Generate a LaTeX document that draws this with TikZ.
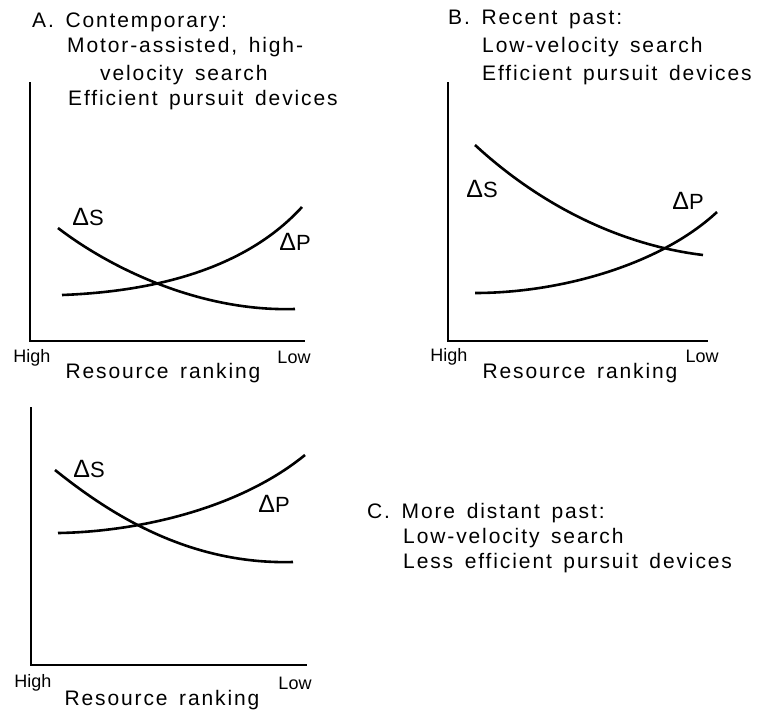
\documentclass[tikz,border=0pt]{standalone}
\usepackage{fontspec}
\setmainfont{Liberation Sans}
\newfontfamily\panelfont{Liberation Sans}[LetterSpace=9,WordSpace=1.5]
\usetikzlibrary{positioning}

\newcommand{\bigdelta}{{\fontsize{25}{28}\selectfont Δ}}

\tikzset{
  axisline/.style={line width=2pt},
  costcurve/.style={line width=2.6pt},
  heading/.style={anchor=west, inner sep=0pt, font=\panelfont\fontsize{21}{24}\selectfont},
  deltalabel/.style={anchor=base, inner sep=0pt, font=\panelfont\fontsize{22}{24}\selectfont},
  endlabel/.style={inner sep=0pt, font=\fontsize{18}{20}\selectfont},
  rankinglabel/.style={inner sep=0pt, font=\panelfont\fontsize{21}{24}\selectfont},
}

\begin{document}
\begin{tikzpicture}[x=1pt,y=-1pt]
  \useasboundingbox (0,0) rectangle (765,709);

  % A. contemporary
  \node[heading] (titleA) at (32,22) {A. Contemporary:};
  \node[heading] (lineA1) at (67,47) {Motor-assisted, high-};
  \node[heading] (lineA2) at (100,75) {velocity search};
  \node[heading] (lineA3) at (68,100) {Efficient pursuit devices};
  \coordinate (topA) at (30,82);
  \coordinate (origA) at (30,341);
  \coordinate (endA) at (305,341);
  \draw[axisline] (topA) -- (origA) -- (endA);
  \draw[costcurve] (58,228) .. controls (110,268) and (200,312) .. (295,309); % search
  \draw[costcurve] (62,295) .. controls (140,292) and (240,275) .. (302,207); % pursuit
  \node[deltalabel] (dsA) at (88,225) {\bigdelta S};
  \node[deltalabel] (dpA) at (295,250) {\bigdelta P};
  \node[endlabel] (highA) at (32,358) {High};
  \node[endlabel] (lowA) at (294,357) {Low};
  \node[rankinglabel] (rankA) at (163,373) {Resource ranking};

  % B. recent past
  \node[heading] (titleB) at (448,19) {B. Recent past:};
  \node[heading] (lineB1) at (482,47) {Low-velocity search};
  \node[heading] (lineB2) at (482,75) {Efficient pursuit devices};
  \coordinate (topB) at (448,82);
  \coordinate (origB) at (448,341);
  \coordinate (endB) at (708,341);
  \draw[axisline] (topB) -- (origB) -- (endB);
  \draw[costcurve] (475,145) .. controls (540,205) and (620,245) .. (703,255); % search
  \draw[costcurve] (475,293) .. controls (560,293) and (660,265) .. (717,212); % pursuit
  \node[deltalabel] (dsB) at (482,197) {\bigdelta S};
  \node[deltalabel] (dpB) at (688,209) {\bigdelta P};
  \node[endlabel] (highB) at (449,357) {High};
  \node[endlabel] (lowB) at (702,356) {Low};
  \node[rankinglabel] (rankB) at (580,373) {Resource ranking};

  % C. more distant past
  \node[heading] (titleC) at (367,513) {C. More distant past:};
  \node[heading] (lineC1) at (403,538) {Low-velocity search};
  \node[heading] (lineC2) at (403,563) {Less efficient pursuit devices};
  \coordinate (topC) at (31,407);
  \coordinate (origC) at (31,665);
  \coordinate (endC) at (307,665);
  \draw[axisline] (topC) -- (origC) -- (endC);
  \draw[costcurve] (55,470) .. controls (105,510) and (185,565) .. (293,562); % search
  \draw[costcurve] (58,533) .. controls (130,532) and (235,512) .. (305,455); % pursuit
  \node[deltalabel] (dsC) at (89,477) {\bigdelta S};
  \node[deltalabel] (dpC) at (274,512) {\bigdelta P};
  \node[endlabel] (highC) at (33,683) {High};
  \node[endlabel] (lowC) at (295,683) {Low};
  \node[rankinglabel] (rankC) at (162,700) {Resource ranking};
\end{tikzpicture}
\end{document}
